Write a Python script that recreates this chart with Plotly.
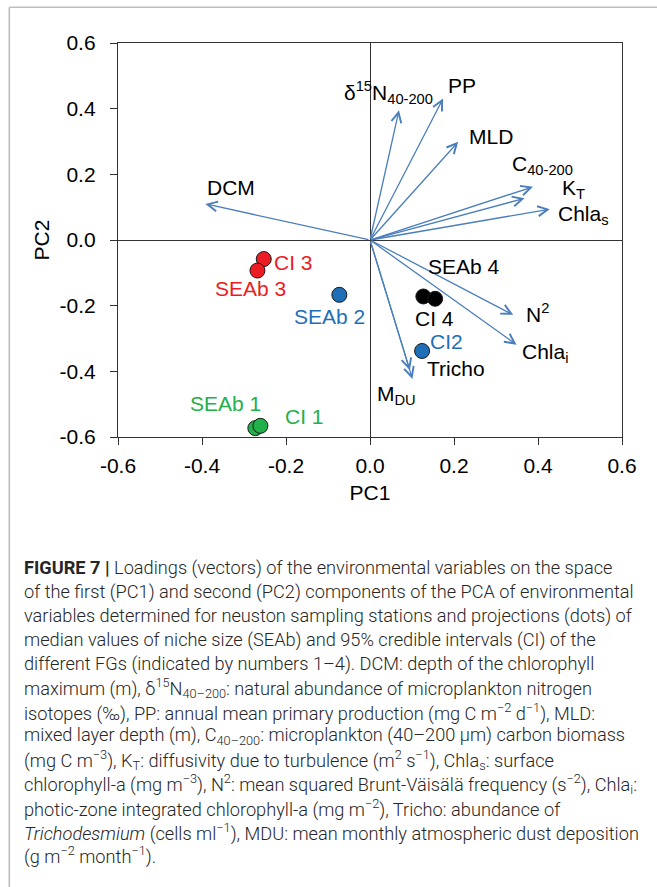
import plotly.graph_objects as go

# ---------------- data ----------------
vec_names = ["DCM", "δ<sup>15</sup>N<sub>40-200</sub>", "PP", "MLD", "C<sub>40-200</sub>",
             "K<sub>T</sub>", "Chla<sub>s</sub>", "N<sup>2</sup>", "Chla<sub>i</sub>",
             "Tricho", "M<sub>DU</sub>"]
vec_pc1 = [-0.392, 0.069, 0.174, 0.210, 0.388, 0.368, 0.428, 0.341, 0.349, 0.095, 0.101]
vec_pc2 = [0.110, 0.395, 0.431, 0.299, 0.162, 0.127, 0.094, -0.228, -0.319, -0.397, -0.423]

pt_names = ["SEAb 1", "CI 1", "SEAb 2", "CI2", "CI 3", "SEAb 3", "SEAb 4", "CI 4"]
pt_group = [1, 1, 2, 2, 3, 3, 4, 4]
pt_pc1 = [-0.273, -0.261, -0.073, 0.124, -0.253, -0.268, 0.127, 0.155]
pt_pc2 = [-0.573, -0.566, -0.167, -0.338, -0.058, -0.093, -0.172, -0.179]

tick_vals = [-0.6, -0.4, -0.2, 0.0, 0.2, 0.4, 0.6]
tick_text = ["-0.6", "-0.4", "-0.2", "0.0", "0.2", "0.4", "0.6"]

caption = [
    "<b>FIGURE 7 |</b> Loadings (vectors) of the environmental variables on the space",
    "of the first (PC1) and second (PC2) components of the PCA of environmental",
    "variables determined for neuston sampling stations and projections (dots) of",
    "median values of niche size (SEAb) and 95% credible intervals (CI) of the",
    "different FGs (indicated by numbers 1–4). DCM: depth of the chlorophyll",
    "maximum (m), δ<sup>15</sup>N<sub>40–200</sub>: natural abundance of microplankton nitrogen",
    "isotopes (‰), PP: annual mean primary production (mg C m<sup>−2</sup> d<sup>−1</sup>), MLD:",
    "mixed layer depth (m), C<sub>40–200</sub>: microplankton (40–200 μm) carbon biomass",
    "(mg C m<sup>−3</sup>), K<sub>T</sub>: diffusivity due to turbulence (m<sup>2</sup> s<sup>−1</sup>), Chla<sub>s</sub>: surface",
    "chlorophyll-a (mg m<sup>−3</sup>), N<sup>2</sup>: mean squared Brunt-Väisälä frequency (s<sup>−2</sup>), Chla<sub>i</sub>:",
    "photic-zone integrated chlorophyll-a (mg m<sup>−2</sup>), Tricho: abundance of",
    "<i>Trichodesmium</i> (cells ml<sup>−1</sup>), MDU: mean monthly atmospheric dust deposition",
    "(g m<sup>−2</sup> month<sup>−1</sup>).",
]

# ---------------- styles ----------------
group_color = {1: "#22b04b", 2: "#1f6fb8", 3: "#ec1c24", 4: "#000000"}
# label offsets in pixels (dx, dy up, anchor)
vec_label_style = [(26, 16, "center"), (-57, 18, "left"), (19, 13, "center"), (33, 5, "center"),
                   (-23, 22, "left"), (35, 9, "left"), (6, -6, "left"), (24, 2, "center"),
                   (3, -8, "left"), (46, 2, "center"), (-37, -16, "left")]
pt_label_style = [(-30, 25), (44, 9), (-10, -22), (24, 9), (30, -3), (-7, -18), (41, 30), (-1, -20)]

ARROW = "#4a7ebb"
FONT = "Liberation Sans, Arial, sans-serif"
FS = 21
W, H = 657, 887
ML, MR, MT, MB = 118, 35, 43, 450
PW, PH = W - ML - MR, H - MT - MB


def xp(px):
    return (px - ML) / PW


def yp(py):
    return 1 - (py - MT) / PH


fig = go.Figure()

for g in [1, 2, 3, 4]:
    idx = [i for i in range(len(pt_names)) if pt_group[i] == g]
    fig.add_trace(go.Scatter(
        x=[pt_pc1[i] for i in idx], y=[pt_pc2[i] for i in idx],
        mode="markers", hoverinfo="text", text=[pt_names[i] for i in idx],
        marker=dict(size=15, color=group_color[g], line=dict(color="#1a1a1a", width=1)),
    ))

annotations = []
for i, name in enumerate(vec_names):
    annotations.append(dict(
        x=vec_pc1[i], y=vec_pc2[i], ax=0, ay=0, xref="x", yref="y", axref="x", ayref="y",
        text="", showarrow=True, arrowhead=5, arrowsize=1.5, arrowwidth=1.3,
        arrowcolor=ARROW, standoff=0, startstandoff=0,
    ))
    dx, dy, anc = vec_label_style[i]
    annotations.append(dict(
        x=vec_pc1[i], y=vec_pc2[i], xref="x", yref="y", text=name, showarrow=False,
        xanchor=anc, yanchor="middle", xshift=dx, yshift=dy,
        font=dict(family=FONT, size=FS, color="#000000"),
    ))

for i, name in enumerate(pt_names):
    dx, dy = pt_label_style[i]
    annotations.append(dict(
        x=pt_pc1[i], y=pt_pc2[i], xref="x", yref="y", text=name, showarrow=False,
        xanchor="center", yanchor="middle", xshift=dx, yshift=dy,
        font=dict(family=FONT, size=FS, color=group_color[pt_group[i]]),
    ))

for k, line in enumerate(caption):
    annotations.append(dict(
        x=xp(22), y=yp(568 + 24 * k), xref="paper", yref="paper", text=line,
        showarrow=False, xanchor="left", yanchor="middle", align="left",
        font=dict(family="Roboto, sans-serif", size=18.2, color="#262626", weight=300),
    ))

shapes = [
    dict(type="line", xref="paper", yref="paper", x0=xp(9.3), x1=xp(W + 5),
         y0=yp(7.3), y1=yp(7.3), line=dict(color="#bdbdbd", width=1.6)),
    dict(type="line", xref="paper", yref="paper", x0=xp(9.3), x1=xp(9.3),
         y0=yp(7.3), y1=yp(H + 5), line=dict(color="#bdbdbd", width=1.6)),
]

axis_common = dict(
    range=[-0.6, 0.6], tickvals=tick_vals, ticktext=tick_text, ticks="outside", ticklen=7,
    tickwidth=1.3, tickcolor="#333333", showline=True, mirror=True, linecolor="#333333",
    linewidth=1.3, zeroline=True, zerolinecolor="#333333", zerolinewidth=1.3, showgrid=False,
    tickfont=dict(family=FONT, size=FS, color="#000000"), automargin=False,
)

fig.update_layout(
    width=W, height=H, autosize=False,
    margin=dict(l=ML, r=MR, t=MT, b=MB, pad=0),
    paper_bgcolor="white", plot_bgcolor="white", showlegend=False,
    xaxis=dict(**axis_common, ticklabelstandoff=3,
               title=dict(text="PC1", standoff=8, font=dict(family=FONT, size=FS, color="#000000"))),
    yaxis=dict(**axis_common, ticklabelstandoff=10,
               title=dict(text="PC2", standoff=4, font=dict(family=FONT, size=FS, color="#000000"))),
    annotations=annotations, shapes=shapes,
)

fig.write_html("out.html", config={"displayModeBar": False},
               post_script="document.body.style.margin='0';document.body.style.overflow='hidden';")
